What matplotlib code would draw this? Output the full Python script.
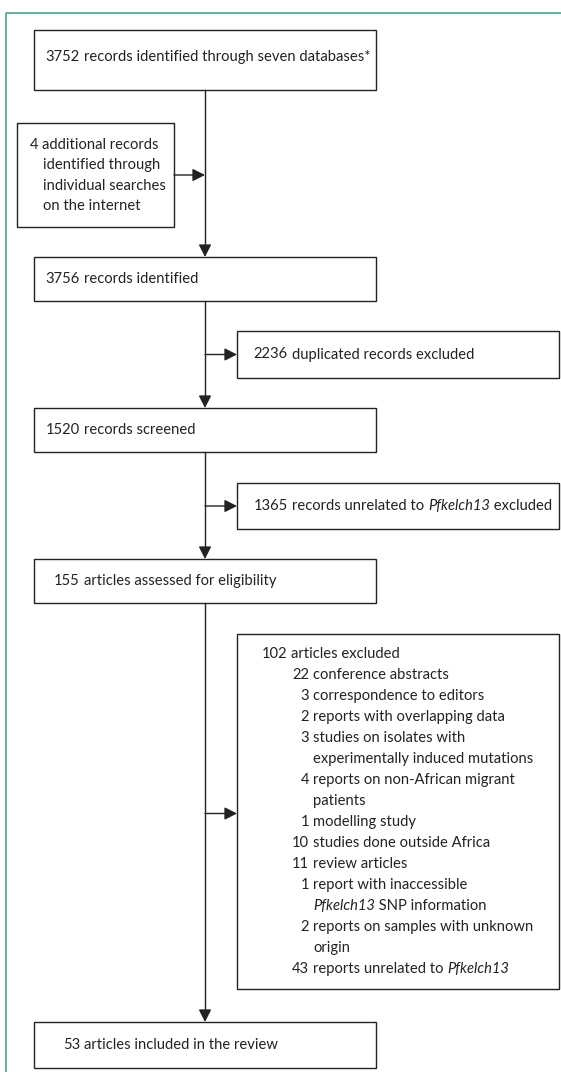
import matplotlib
matplotlib.use("Agg")
import matplotlib.pyplot as plt
from matplotlib.patches import Rectangle, FancyArrowPatch

plt.rcParams['font.family'] = ['Lato', 'DejaVu Sans']

# ---- data (counts and labels); _word_ marks italic gene names ----
main_counts = ["3752", "3756", "1520", "155", "53"]
main_labels = ["records identified through seven databases*",
               "records identified",
               "records screened",
               "articles assessed for eligibility",
               "articles included in the review"]

extra_count = "4"
extra_lines = ["additional records", "identified through",
               "individual searches", "on the internet"]

excl_counts = ["2236", "1365"]
excl_labels = ["duplicated records excluded",
               "records unrelated to _Pfkelch13_ excluded"]

total_excluded = "102"
reason_counts = ["22", "3", "2", "3", None, "4", None, "1", "10", "11", "1", None, "2", None, "43"]
reason_lines = ["conference abstracts",
                "correspondence to editors",
                "reports with overlapping data",
                "studies on isolates with",
                "experimentally induced mutations",
                "reports on non-African migrant",
                "patients",
                "modelling study",
                "studies done outside Africa",
                "review articles",
                "report with inaccessible",
                "_Pfkelch13_ SNP information",
                "reports on samples with unknown",
                "origin",
                "reports unrelated to _Pfkelch13_"]

# ---- layout (pixels, y downwards) ----
W, H = 561, 1072
main_x0, main_x1, spine_x = 34, 376, 205
main_y = [(30, 90), (257, 301), (408, 452), (559, 603), (1022, 1068)]
main_text_y = [57, 279, 430, 581, 1045]
side_x0, side_x1 = 237, 559
excl_y = [(331, 378), (483, 529)]
reason_box = (634, 989)
extra_box = (17, 174, 123, 227)

ink = '#222222'
green = '#3f9c74'
fs = 10.6

fig = plt.figure(figsize=(W / 100, H / 100), dpi=100)
ax = fig.add_axes([0, 0, 1, 1])
ax.set_xlim(0, W)
ax.set_ylim(H, 0)
ax.axis('off')
renderer = fig.canvas.get_renderer()

# green frame
ax.plot([6, 6, W], [H, 13, 13], color=green, lw=1.1, solid_capstyle='butt')


def box(x0, x1, y0, y1):
    ax.add_patch(Rectangle((x0, y0), x1 - x0, y1 - y0, fill=False,
                           ec=ink, lw=1.0))


def arrow(p0, p1):
    ax.add_patch(FancyArrowPatch(p0, p1, arrowstyle='-|>,head_length=0.75,head_width=0.38',
                                 mutation_scale=10, color=ink, lw=1.0,
                                 shrinkA=0, shrinkB=0))


def rich(x, y, s):
    # draw text with _italic_ parts, one piece after another
    for k, part in enumerate(s.split('_')):
        if not part:
            continue
        t = ax.text(x, y, part, ha='left', va='center', fontsize=fs, color=ink,
                    style='italic' if k % 2 else 'normal')
        bb = t.get_window_extent(renderer)
        x += bb.width


def num_text(xr, y, num, txt, gap=4):
    if num is not None:
        ax.text(xr, y, num, ha='right', va='center', fontsize=fs, color=ink)
    rich(xr + gap, y, txt)


# main column
for i, (y0, y1) in enumerate(main_y):
    box(main_x0, main_x1, y0, y1)
    num_text(80, main_text_y[i], main_counts[i], main_labels[i])
    if i > 0:
        ax.plot([spine_x, spine_x], [main_y[i - 1][1], y0 - 9], color=ink, lw=1.0)
        arrow((spine_x, y0 - 11), (spine_x, y0))

# additional records box
x0, x1, y0, y1 = extra_box
box(x0, x1, y0, y1)
for j, line in enumerate(extra_lines):
    yy = 145 + j * 20.4
    if j == 0:
        num_text(38, yy, extra_count, line)
    else:
        rich(43, yy, line)
arrow((x1, (y0 + y1) / 2), (spine_x, (y0 + y1) / 2))

# excluded boxes
for i, (y0, y1) in enumerate(excl_y):
    box(side_x0, side_x1, y0, y1)
    yc = (y0 + y1) / 2
    num_text(288, yc, excl_counts[i], excl_labels[i])
    arrow((spine_x, yc), (side_x0, yc))

# reasons box
y0, y1 = reason_box
box(side_x0, side_x1, y0, y1)
arrow((spine_x, (y0 + y1) / 2 + 2), (side_x0, (y0 + y1) / 2 + 2))
num_text(287, 654, total_excluded, "articles excluded")
for j, (n, line) in enumerate(zip(reason_counts, reason_lines)):
    yy = 675 + j * 21.0
    if n is None:
        rich(313, yy, line)
    else:
        num_text(309, yy, n, line)

fig.savefig("out.png", dpi=100)
